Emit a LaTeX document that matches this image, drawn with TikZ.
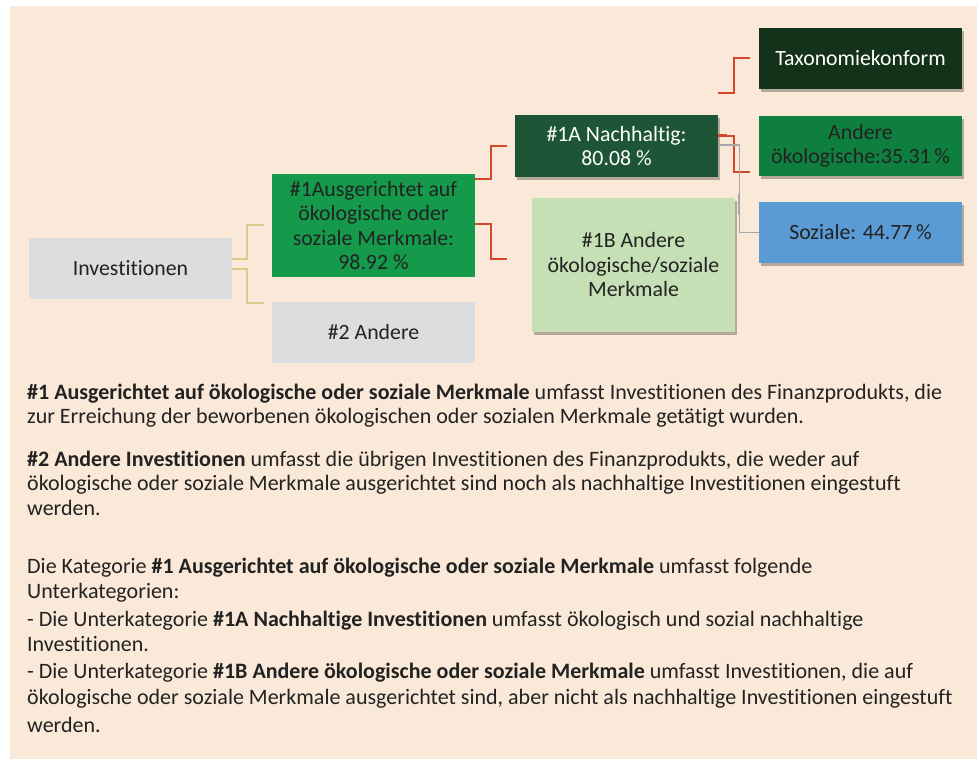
\documentclass[tikz,border=0pt]{standalone}
\usepackage{fontspec}
\setmainfont{Carlito}[Ligatures={NoCommon}]
\usetikzlibrary{shadows}
\definecolor{bgpeach}{HTML}{FAE8D8}
\definecolor{txtdark}{HTML}{222222}
\definecolor{boxgrey}{HTML}{DCDDDF}
\definecolor{greenA}{HTML}{149A4A}
\definecolor{greenDark}{HTML}{1F5537}
\definecolor{greenLight}{HTML}{C5E0B4}
\definecolor{greenTax}{HTML}{133219}
\definecolor{greenOther}{HTML}{0F7F3F}
\definecolor{blueSoc}{HTML}{5B9BD5}
\definecolor{khaki}{HTML}{D8CB8D}
\definecolor{redline}{HTML}{D1492A}
\definecolor{greyline}{HTML}{A8A8A8}
\tikzset{
  box/.style={rectangle, minimum width=203pt, inner sep=2pt, align=center,
    font=\fontsize{21.8}{24.5}\selectfont, text=txtdark},
  shadowed/.style={drop shadow={shadow xshift=2pt, shadow yshift=-3pt, fill=black, opacity=0.28}},
  khakiline/.style={draw=khaki, line width=1.6pt},
  redconn/.style={draw=redline, line width=1.6pt},
  greyconn/.style={draw=greyline, line width=1.1pt},
  para/.style={anchor=base west, inner sep=0pt, font=\fontsize{22}{25}\selectfont, text=txtdark}
}
\begin{document}
\begin{tikzpicture}[x=1pt,y=-1pt]
\useasboundingbox (0,0) rectangle (977,760);
\fill[bgpeach] (10,6) rectangle (977,759);

% free ends of connectors
\coordinate (c1) at (264,225);
\coordinate (c2) at (264,303);
\coordinate (c3) at (507,146);
\coordinate (c4) at (507,259);
\coordinate (c5) at (750,58);
\coordinate (c6) at (750,172);

% boxes
\node[box, fill=boxgrey, minimum height=61pt] (inv) at (130.5,268.5) {Investitionen};
\node[box, fill=greenA, minimum height=103pt] (b1) at (373.5,225.5) {\#1Ausgerichtet auf\\ökologische oder\\soziale Merkmale:\\98.92 \%};
\node[box, fill=boxgrey, minimum height=61pt] (b2) at (373.5,332.5) {\#2 Andere};
\node[box, shadowed, fill=greenDark, text=white, minimum height=62pt] (b1a) at (616.5,146) {\#1A Nachhaltig:\\80.08 \%};
\node[box, shadowed, fill=greenLight, minimum height=134pt] (b1b) at (633.5,265) {\#1B Andere\\ökologische/soziale\\Merkmale};
\node[box, shadowed, fill=greenTax, text=white, minimum height=61pt] (tax) at (860.5,58.5) {Taxonomiekonform};
\node[box, shadowed, fill=greenOther, minimum height=60pt] (oth) at (860.5,146) {Andere\\ökologische:35.31\,\%};
\node[box, shadowed, fill=blueSoc, minimum height=61pt] (soz) at (860.5,232.5) {Soziale: 44.77\,\%};

% connectors
\draw[khakiline] ([yshift=9.5pt]inv.east) -- ++(15,0) |- (c1);
\draw[khakiline] ([yshift=-0.5pt]inv.east) -- ++(15,0) |- (c2);
\draw[redconn] ([yshift=-5pt]b1.north east) -- ++(16,0) |- (c3);
\draw[redconn] ([yshift=1.5pt]b1.east) -- ++(16,0) |- (c4);
\draw[redconn] ([yshift=22pt]b1a.north east) -- ++(16,0) |- (c5);
\draw[redconn] ([yshift=10pt]b1a.east) -- ++(16,0) |- (c6);
\draw[redline, line width=3pt] ([yshift=10.5pt]b1a.east) -- ++(9,0);
\draw[greyconn] ([yshift=1pt]b1a.east) -- ++(21,0) |- (soz.west);
\draw[greyline, line width=2.6pt] (739,194) -- (739,215);

% explanatory text
\node[para] (p1a) at (27,399) {\textbf{\#1 Ausgerichtet auf ökologische oder soziale Merkmale} umfasst Investitionen des Finanzprodukts, die};
\node[para] (p1b) at (27,423) {zur Erreichung der beworbenen ökologischen oder sozialen Merkmale getätigt wurden.};
\node[para] (p2a) at (27,466) {\textbf{\#2 Andere Investitionen} umfasst die übrigen Investitionen des Finanzprodukts, die weder auf};
\node[para] (p2b) at (27,490) {ökologische oder soziale Merkmale ausgerichtet sind noch als nachhaltige Investitionen eingestuft};
\node[para] (p2c) at (27,515) {werden.};
\node[para] (p3a) at (27,573) {Die Kategorie \textbf{\#1 Ausgerichtet auf ökologische oder soziale Merkmale} umfasst folgende};
\node[para] (p3b) at (27,598) {Unterkategorien:};
\node[para] (p3c) at (27,626) {- Die Unterkategorie \textbf{\#1A Nachhaltige Investitionen} umfasst ökologisch und sozial nachhaltige};
\node[para] (p3d) at (27,651) {Investitionen.};
\node[para] (p3e) at (27,678) {- Die Unterkategorie \textbf{\#1B Andere ökologische oder soziale Merkmale} umfasst Investitionen, die auf};
\node[para] (p3f) at (27,704) {ökologische oder soziale Merkmale ausgerichtet sind, aber nicht als nachhaltige Investitionen eingestuft};
\node[para] (p3g) at (27,732) {werden.};
\end{tikzpicture}
\end{document}
